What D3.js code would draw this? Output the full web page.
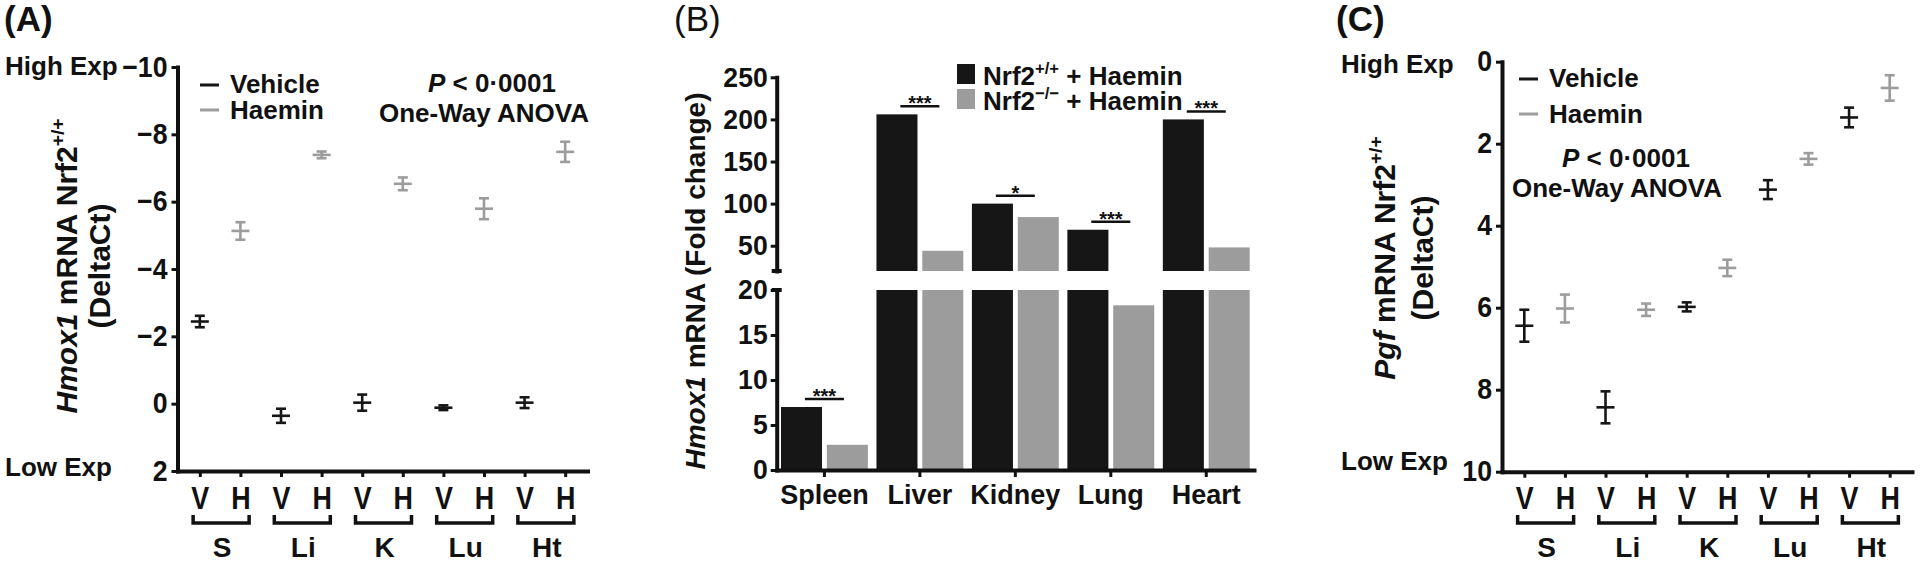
<!DOCTYPE html>
<html><head><meta charset="utf-8">
<script src="https://cdn.jsdelivr.net/npm/d3@7"></script>
<style>
html,body{margin:0;padding:0;background:#fff;}
svg{display:block;}
</style></head><body>
<svg id="chart" width="1920" height="566"></svg>
<script>
// ---------------- DATA ----------------
const tissueCodes = ["S", "Li", "K", "Lu", "Ht"];
const treatmentCodes = ["V", "H"];
// Panel A: Hmox1 DeltaCt (mean, SEM)
const hmoxVehicleMean = [-2.44, 0.36, -0.03, 0.12, -0.03];
const hmoxVehicleSem  = [0.17, 0.21, 0.24, 0.07, 0.16];
const hmoxHaeminMean  = [-5.13, -7.39, -6.53, -5.79, -7.48];
const hmoxHaeminSem   = [0.26, 0.10, 0.19, 0.31, 0.30];
const hmoxTicks = [-10, -8, -6, -4, -2, 0, 2];
// Panel B: Hmox1 fold change
const tissues = ["Spleen", "Liver", "Kidney", "Lung", "Heart"];
const foldWT = [7.0, 206, 100, 69, 200];
const foldKO = [2.8, 44, 84, 18.3, 48];
const significance = ["***", "***", "*", "***", "***"];
const foldTicksUpper = [50, 100, 150, 200, 250];
const foldTicksLower = [0, 5, 10, 15, 20];
// Panel C: Pgf DeltaCt (mean, SEM)
const pgfVehicleMean = [6.44, 8.43, 5.98, 3.12, 1.36];
const pgfVehicleSem  = [0.39, 0.39, 0.11, 0.23, 0.24];
const pgfHaeminMean  = [6.02, 6.05, 5.03, 2.37, 0.64];
const pgfHaeminSem   = [0.34, 0.15, 0.20, 0.14, 0.31];
const pgfTicks = [0, 2, 4, 6, 8, 10];

// ---------------- STYLE ----------------
const FONT = '"Liberation Sans", Arial, Helvetica, sans-serif';
const BLACK = "#161616", GRAY = "#9c9c9c", INK = "#111";

const svg = d3.select("#chart")
  .attr("font-family", FONT).attr("font-weight", "bold").attr("fill", INK);
svg.append("rect").attr("width", 1920).attr("height", 566).attr("fill", "#fff");

function styleAxis(sel, fs, sx) {
  sel.attr("font-family", FONT).attr("font-size", fs).attr("font-weight", "bold");
  sel.select(".domain").attr("stroke", INK).attr("stroke-width", 4).attr("stroke-linecap", "square");
  sel.selectAll(".tick line").attr("stroke", INK).attr("stroke-width", 3);
  const tx = sel.selectAll(".tick text").attr("fill", INK);
  if (sx && sx !== 1) tx.attr("transform", `scale(${sx},1)`);
}

function addText(g, x, y, parts, opts = {}) {
  const fs = opts.fs || 26;
  const t = g.append("text")
    .attr("font-size", fs)
    .attr("text-anchor", opts.anchor || "start")
    .attr("font-weight", opts.weight || "bold")
    .attr("fill", INK);
  if (opts.rotate) t.attr("transform", `translate(${x},${y}) rotate(-90)`);
  else t.attr("x", x).attr("y", y);
  let shifted = 0;
  parts.forEach(p => {
    const s = t.append("tspan").text(p.t);
    if (p.italic) s.attr("font-style", "italic");
    if (p.sup) {
      s.attr("font-size", fs * 0.64).attr("dy", -fs * 0.42);
      shifted = fs * 0.42;
    } else if (shifted) {
      s.attr("dy", shifted);
      shifted = 0;
    }
  });
  return t;
}

// ---------------- DOT PANELS (A, C) ----------------
const positions = tissueCodes.flatMap(t => treatmentCodes.map(r => t + "|" + r));

function dotPanel(cfg) {
  const g = svg.append("g");
  const x = d3.scalePoint(positions, [cfg.left, cfg.right]).padding(0.55);
  const y = d3.scaleLinear(cfg.domain, [cfg.top, cfg.bottom]);

  const yAx = g.append("g").attr("transform", `translate(${cfg.left},0)`)
    .call(d3.axisLeft(y).tickValues(cfg.ticks).tickSize(6).tickSizeOuter(0).tickPadding(4));
  styleAxis(yAx, 29, 0.92);
  // keep right-aligned labels anchored at the tick after condensing
  yAx.selectAll(".tick text").attr("x", -10 / 0.92);

  const xAx = g.append("g").attr("transform", `translate(0,${cfg.bottom})`)
    .call(d3.axisBottom(x).tickSize(6).tickSizeOuter(0).tickPadding(9)
      .tickFormat(d => d.split("|")[1]));
  styleAxis(xAx, 32, 0.84);

  // error bars
  const series = [
    { key: "V", color: BLACK, mean: cfg.vMean, sem: cfg.vSem },
    { key: "H", color: GRAY, mean: cfg.hMean, sem: cfg.hSem }
  ];
  series.forEach(s => {
    tissueCodes.forEach((t, i) => {
      const cx = x(t + "|" + s.key);
      const m = s.mean[i], e = s.sem[i];
      const eg = g.append("g").attr("stroke", s.color).attr("stroke-width", 2.6).attr("fill", "none");
      eg.append("line").attr("x1", cx).attr("x2", cx).attr("y1", y(m - e)).attr("y2", y(m + e));
      eg.append("line").attr("x1", cx - 5).attr("x2", cx + 5).attr("y1", y(m - e)).attr("y2", y(m - e));
      eg.append("line").attr("x1", cx - 5).attr("x2", cx + 5).attr("y1", y(m + e)).attr("y2", y(m + e));
      eg.append("line").attr("x1", cx - 9).attr("x2", cx + 9).attr("y1", y(m)).attr("y2", y(m));
    });
  });

  // brackets & group labels
  tissueCodes.forEach(t => {
    const c = (x(t + "|V") + x(t + "|H")) / 2;
    g.append("path")
      .attr("d", `M${c - 27},515 V523 H${c + 29} V515`)
      .attr("fill", "none").attr("stroke", INK).attr("stroke-width", 3.5);
    addText(g, c + 2, 557, [{ t: t }], { fs: 28, anchor: "middle" });
  });

  // legend
  [[cfg.legY[0], BLACK, "Vehicle"], [cfg.legY[1], GRAY, "Haemin"]].forEach(([ly, col, lab], k) => {
    g.append("line").attr("x1", cfg.legX).attr("x2", cfg.legX + 19)
      .attr("y1", ly).attr("y2", ly).attr("stroke", col).attr("stroke-width", 3);
    addText(g, cfg.legX + 30, ly + 8 + (k === 1 ? 1 : 0), [{ t: lab }], { fs: 26 });
  });

  addText(g, cfg.pPos[0], cfg.pPos[1], [{ t: "P", italic: true }, { t: " < 0\u00b70001" }], { fs: 26, anchor: "middle" });
  addText(g, cfg.aPos[0], cfg.aPos[1], [{ t: "One-Way ANOVA" }], { fs: 26, anchor: "middle" });

  addText(g, cfg.expX, cfg.highY, [{ t: "High Exp" }], { fs: 26 });
  addText(g, cfg.expX, cfg.lowY, [{ t: "Low Exp" }], { fs: 26 });

  addText(g, cfg.title1X, cfg.titleY, cfg.title1, { fs: 30, anchor: "middle", rotate: true });
  addText(g, cfg.title2X, cfg.titleY, [{ t: "(DeltaCt)" }], { fs: 30, anchor: "middle", rotate: true });

  addText(g, cfg.labelX, 31, [{ t: cfg.label }], { fs: 35 });
}

dotPanel({
  left: 177.5, right: 587.5, top: 67, bottom: 471, domain: [-10, 2], ticks: hmoxTicks,
  vMean: hmoxVehicleMean, vSem: hmoxVehicleSem, hMean: hmoxHaeminMean, hSem: hmoxHaeminSem,
  legX: 200, legY: [85, 110], pPos: [492, 92], aPos: [484, 122],
  expX: 5, highY: 75, lowY: 476,
  title1X: 77, title2X: 110, titleY: 266,
  title1: [{ t: "Hmox1", italic: true }, { t: " mRNA Nrf2" }, { t: "+/+", sup: true }],
  label: "(A)", labelX: 4
});

dotPanel({
  left: 1502, right: 1912, top: 61.7, bottom: 471.7, domain: [0, 10], ticks: pgfTicks,
  vMean: pgfVehicleMean, vSem: pgfVehicleSem, hMean: pgfHaeminMean, hSem: pgfHaeminSem,
  legX: 1519, legY: [79, 114], pPos: [1626, 167], aPos: [1617, 197],
  expX: 1341, highY: 73, lowY: 470,
  title1X: 1395, title2X: 1433, titleY: 258,
  title1: [{ t: "Pgf", italic: true }, { t: " mRNA Nrf2" }, { t: "+/+", sup: true }],
  label: "(C)", labelX: 1336
});

// ---------------- BAR PANEL (B) ----------------
(function () {
  const g = svg.append("g");
  const left = 776.7, right = 1254, base = 470;
  const x0 = d3.scaleBand(tissues, [left, right]).paddingInner(0.09).paddingOuter(0.045);
  const x1 = d3.scaleBand(["wt", "ko"], [0, x0.bandwidth()]).paddingInner(0.105);
  const yLow = d3.scaleLinear([0, 20], [base, 290]);
  const yUp = d3.scaleLinear([20, 250], [271, 77.3]);
  const topY = v => v > 20 ? yUp(v) : yLow(v);

  const series = [{ key: "wt", vals: foldWT, color: BLACK }, { key: "ko", vals: foldKO, color: GRAY }];
  series.forEach(s => {
    tissues.forEach((t, i) => {
      const v = s.vals[i];
      const bx = x0(t) + x1(s.key), bw = x1.bandwidth();
      g.append("rect").attr("x", bx).attr("width", bw)
        .attr("y", yLow(Math.min(v, 20))).attr("height", yLow(0) - yLow(Math.min(v, 20)))
        .attr("fill", s.color);
      if (v > 20) {
        g.append("rect").attr("x", bx).attr("width", bw)
          .attr("y", yUp(v)).attr("height", yUp(20) - yUp(v))
          .attr("fill", s.color);
      }
    });
  });

  const yAxLow = g.append("g").attr("transform", `translate(${left},0)`)
    .call(d3.axisLeft(yLow).tickValues(foldTicksLower).tickSize(6).tickSizeOuter(0).tickPadding(3));
  styleAxis(yAxLow, 28, 0.95);
  yAxLow.selectAll(".tick text").attr("x", -9 / 0.95);
  const yAxUp = g.append("g").attr("transform", `translate(${left},0)`)
    .call(d3.axisLeft(yUp).tickValues(foldTicksUpper).tickSize(6).tickSizeOuter(0).tickPadding(3));
  styleAxis(yAxUp, 28, 0.95);
  yAxUp.selectAll(".tick text").attr("x", -9 / 0.95);
  // break caps
  g.append("line").attr("x1", left - 5).attr("x2", left + 5).attr("y1", yUp(20)).attr("y2", yUp(20))
    .attr("stroke", INK).attr("stroke-width", 4);
  g.append("line").attr("x1", left - 5).attr("x2", left + 5).attr("y1", yLow(20)).attr("y2", yLow(20))
    .attr("stroke", INK).attr("stroke-width", 4);

  const xAx = g.append("g").attr("transform", `translate(0,${base})`)
    .call(d3.axisBottom(x0).tickSize(7).tickSizeOuter(0).tickPadding(8));
  styleAxis(xAx, 27);

  // significance
  tissues.forEach((t, i) => {
    const c = x0(t) + x0.bandwidth() / 2;
    const ly = topY(foldWT[i]) - 8;
    g.append("line").attr("x1", c - 19.5).attr("x2", c + 19.5).attr("y1", ly).attr("y2", ly)
      .attr("stroke", INK).attr("stroke-width", 2.5);
    addText(g, c, ly + 4, [{ t: significance[i] }], { fs: 20, anchor: "middle" });
  });

  // legend
  g.append("rect").attr("x", 957).attr("y", 64).attr("width", 18).attr("height", 20).attr("fill", BLACK);
  g.append("rect").attr("x", 957).attr("y", 89).attr("width", 18).attr("height", 20).attr("fill", GRAY);
  addText(g, 983, 85, [{ t: "Nrf2" }, { t: "+/+", sup: true }, { t: " + Haemin" }], { fs: 26 });
  addText(g, 983, 110, [{ t: "Nrf2" }, { t: "\u2212/\u2212", sup: true }, { t: " + Haemin" }], { fs: 26 });

  addText(g, 705, 281, [{ t: "Hmox1", italic: true }, { t: " mRNA (Fold change)" }], { fs: 28, anchor: "middle", rotate: true });
  addText(g, 674, 31, [{ t: "(B)" }], { fs: 35, weight: "normal" });
})();
</script>
</body></html>
